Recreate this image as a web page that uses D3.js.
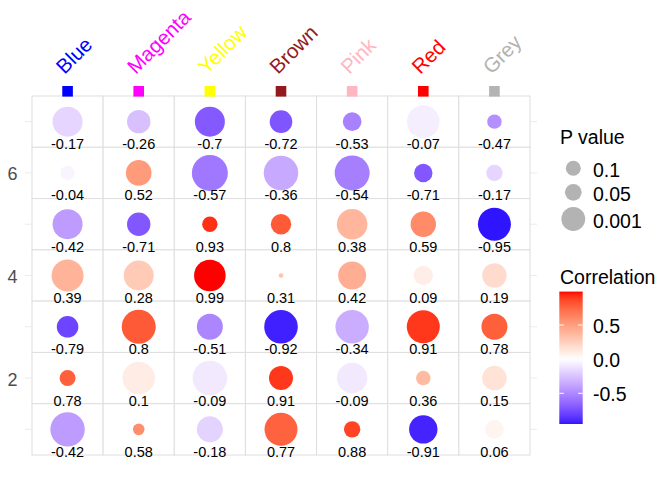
<!DOCTYPE html>
<html>
<head>
<meta charset="utf-8">
<script src="https://cdn.jsdelivr.net/npm/d3@7"></script>
<style>
  body { margin: 0; background: #fff; }
  svg { display: block; font-family: "Liberation Sans", Arial, sans-serif; }
</style>
</head>
<body>
<svg></svg>
<script>
// columns of the matrix (left to right) and their header colours
var columns = ["Blue", "Magenta", "Yellow", "Brown", "Pink", "Red", "Grey"]
var columnColors = ["#0000ff", "#ff00ff", "#ffff00", "#921a1e", "#ffb6c1", "#ff0000", "#b3b3b3"]

// row positions on the y axis, top to bottom
var rows = [7, 6, 5, 4, 3, 2, 1]

// correlation per column, rows top to bottom
var correlation = [
    [-0.17, -0.04, -0.42, 0.39, -0.79, 0.78, -0.42],
    [-0.26, 0.52, -0.71, 0.28, 0.8, 0.1, 0.58],
    [-0.7, -0.57, 0.93, 0.99, -0.51, -0.09, -0.18],
    [-0.72, -0.36, 0.8, 0.31, -0.92, 0.91, 0.77],
    [-0.53, -0.54, 0.38, 0.42, -0.34, -0.09, 0.88],
    [-0.07, -0.71, 0.59, 0.09, 0.91, 0.36, -0.91],
    [-0.47, -0.17, -0.95, 0.19, 0.78, 0.15, 0.06]
]

// p values per column, rows top to bottom (estimated from circle sizes)
var pValue = [
    [8.7e-6, 0.125, 8.7e-6, 1.4e-6, 0.004, 0.067, 1.4e-7],
    [1.3e-3, 2.8e-4, 1.3e-3, 8.7e-6, 2.1e-7, 1e-6, 0.31],
    [8.7e-6, 2.8e-8, 0.085, 2.1e-6, 2.1e-4, 1.2e-7, 2.1e-4],
    [2.1e-3, 1.2e-7, 0.0079, 0.96, 3.2e-7, 8.7e-4, 5.6e-7],
    [0.02, 7.8e-8, 5.1e-6, 4.6e-5, 3.8e-7, 6.1e-6, 0.057],
    [8.3e-7, 0.022, 3.3e-4, 0.0135, 5.6e-7, 0.117, 3.3e-5],
    [0.125, 0.057, 5.6e-7, 6.6e-4, 2.1e-4, 5.8e-4, 0.02]
]

var yTicks = [2, 4, 6]
var pBreaks = [0.1, 0.05, 0.001]
var corrBreaks = [0.5, 0.0, -0.5]

var width = 672, height = 480

var svg = d3.select("svg")
    .attr("width", width)
    .attr("height", height)

// flatten into cells
var cells = []
columns.forEach(function(col, i) {
    rows.forEach(function(r, j) {
        cells.push({ col: col, row: r, r: correlation[i][j], p: pValue[i][j] })
    })
})

var xScale = d3.scaleBand()
    .domain(columns)
    .range([32, 530])

var yScale = d3.scaleLinear()
    .domain([0.5, 7.5])
    .range([455, 96])

var sizeScale = d3.scaleSqrt()
    .domain([0, 9])
    .range([1.5, 19.5])

var corrExtent = d3.extent(cells, function(d) { return d.r })
var maxAbs = d3.max(corrExtent, function(v) { return Math.abs(v) })

function colorOf(v) {
    var t = Math.min(1, Math.abs(v) / maxAbs)
    return v < 0 ? d3.interpolateLab("#ffffff", "#0000ff")(t)
                 : d3.interpolateLab("#ffffff", "#ff0000")(t)
}

// major grid lines (only the ends show beyond the tiles)
svg.append("g")
    .selectAll("line")
    .data(rows)
    .enter()
    .append("line")
    .attr("x1", 25)
    .attr("x2", 537)
    .attr("y1", function(d) { return yScale(d) })
    .attr("y2", function(d) { return yScale(d) })
    .attr("stroke", "#ebebeb")
    .attr("stroke-width", 1)

// tiles
var rowH = yScale(0.5) - yScale(1.5)
svg.append("g")
    .selectAll("rect")
    .data(cells)
    .enter()
    .append("rect")
    .attr("x", function(d) { return xScale(d.col) })
    .attr("y", function(d) { return yScale(d.row + 0.5) })
    .attr("width", xScale.bandwidth())
    .attr("height", rowH)
    .attr("fill", "#ffffff")
    .attr("stroke", "#dedede")
    .attr("stroke-width", 1)

// circles
svg.append("g")
    .selectAll("circle")
    .data(cells)
    .enter()
    .append("circle")
    .attr("cx", function(d) { return xScale(d.col) + xScale.bandwidth() / 2 })
    .attr("cy", function(d) { return yScale(d.row) })
    .attr("r", function(d) { return sizeScale(-Math.log10(d.p)) })
    .attr("fill", function(d) { return colorOf(d.r) })

// correlation labels
svg.append("g")
    .selectAll("text")
    .data(cells)
    .enter()
    .append("text")
    .attr("x", function(d) { return xScale(d.col) + xScale.bandwidth() / 2 })
    .attr("y", function(d) { return yScale(d.row) + 27.5 })
    .attr("text-anchor", "middle")
    .style("font-size", "14.5px")
    .attr("fill", "#000")
    .text(function(d) { return String(d.r) })

// header squares and rotated names
svg.append("g")
    .selectAll("rect")
    .data(columns)
    .enter()
    .append("rect")
    .attr("x", function(d) { return xScale(d) + xScale.bandwidth() / 2 - 5.3 })
    .attr("y", 86)
    .attr("width", 10.6)
    .attr("height", 10.6)
    .attr("fill", function(d, i) { return columnColors[i] })

svg.append("g")
    .selectAll("text")
    .data(columns)
    .enter()
    .append("text")
    .attr("transform", function(d) {
        return "translate(" + (xScale(d) + xScale.bandwidth() / 2 - 3) + ",75)rotate(-45)"
    })
    .style("font-size", "20.5px")
    .attr("fill", function(d, i) { return columnColors[i] })
    .text(function(d) { return d })

// y axis
var yAxis = svg.append("g")
    .attr("transform", "translate(25,0)")
    .call(d3.axisLeft(yScale).tickValues(yTicks).tickFormat(d3.format("d")).tickSize(0).tickPadding(7.5))
yAxis.select(".domain").remove()
yAxis.selectAll("text")
    .attr("dy", null)
    .attr("y", 7)
    .style("font-size", "18px")
    .style("font-family", "'Liberation Sans', Arial, sans-serif")
    .attr("fill", "#4d4d4d")

// P value legend
var lx = 560
svg.append("text")
    .attr("x", lx)
    .attr("y", 143.5)
    .style("font-size", "19.5px")
    .text("P value")

var pLegendY = [168.3, 192.3, 219]
var pLeg = svg.append("g")
    .selectAll("g")
    .data(pBreaks)
    .enter()
    .append("g")
    .attr("transform", function(d, i) { return "translate(0," + pLegendY[i] + ")" })

pLeg.append("circle")
    .attr("cx", 573.3)
    .attr("cy", 0)
    .attr("r", function(d) { return sizeScale(-Math.log10(d)) })
    .attr("fill", "#b3b3b3")

pLeg.append("text")
    .attr("x", 593)
    .attr("y", 8.5)
    .style("font-size", "19.5px")
    .text(function(d) { return String(d) })

// correlation colour bar
svg.append("text")
    .attr("x", lx)
    .attr("y", 283.5)
    .style("font-size", "19.5px")
    .text("Correlation")

var barScale = d3.scaleLinear()
    .domain(corrExtent)
    .range([424, 291.6])

var grad = svg.append("defs")
    .append("linearGradient")
    .attr("id", "corrGrad")
    .attr("x1", 0).attr("y1", 1)
    .attr("x2", 0).attr("y2", 0)

d3.range(0, 1.0001, 0.02).forEach(function(t) {
    var v = corrExtent[0] + t * (corrExtent[1] - corrExtent[0])
    grad.append("stop")
        .attr("offset", t)
        .attr("stop-color", colorOf(v))
})

var barX = 559.3, barW = 23.4
svg.append("rect")
    .attr("x", barX)
    .attr("y", barScale(corrExtent[1]))
    .attr("width", barW)
    .attr("height", barScale(corrExtent[0]) - barScale(corrExtent[1]))
    .attr("fill", "url(#corrGrad)")

var ticks = svg.append("g")
    .selectAll("g")
    .data(corrBreaks)
    .enter()
    .append("g")
    .attr("transform", function(d) { return "translate(0," + barScale(d) + ")" })

ticks.append("line")
    .attr("x1", barX).attr("x2", barX + 4.6)
    .attr("stroke", "#ffffff").attr("stroke-width", 1)
ticks.append("line")
    .attr("x1", barX + barW - 4.6).attr("x2", barX + barW)
    .attr("stroke", "#ffffff").attr("stroke-width", 1)

ticks.append("text")
    .attr("x", 593)
    .attr("y", 8)
    .style("font-size", "19.5px")
    .text(function(d) { return d.toFixed(1) })
</script>
</body>
</html>
